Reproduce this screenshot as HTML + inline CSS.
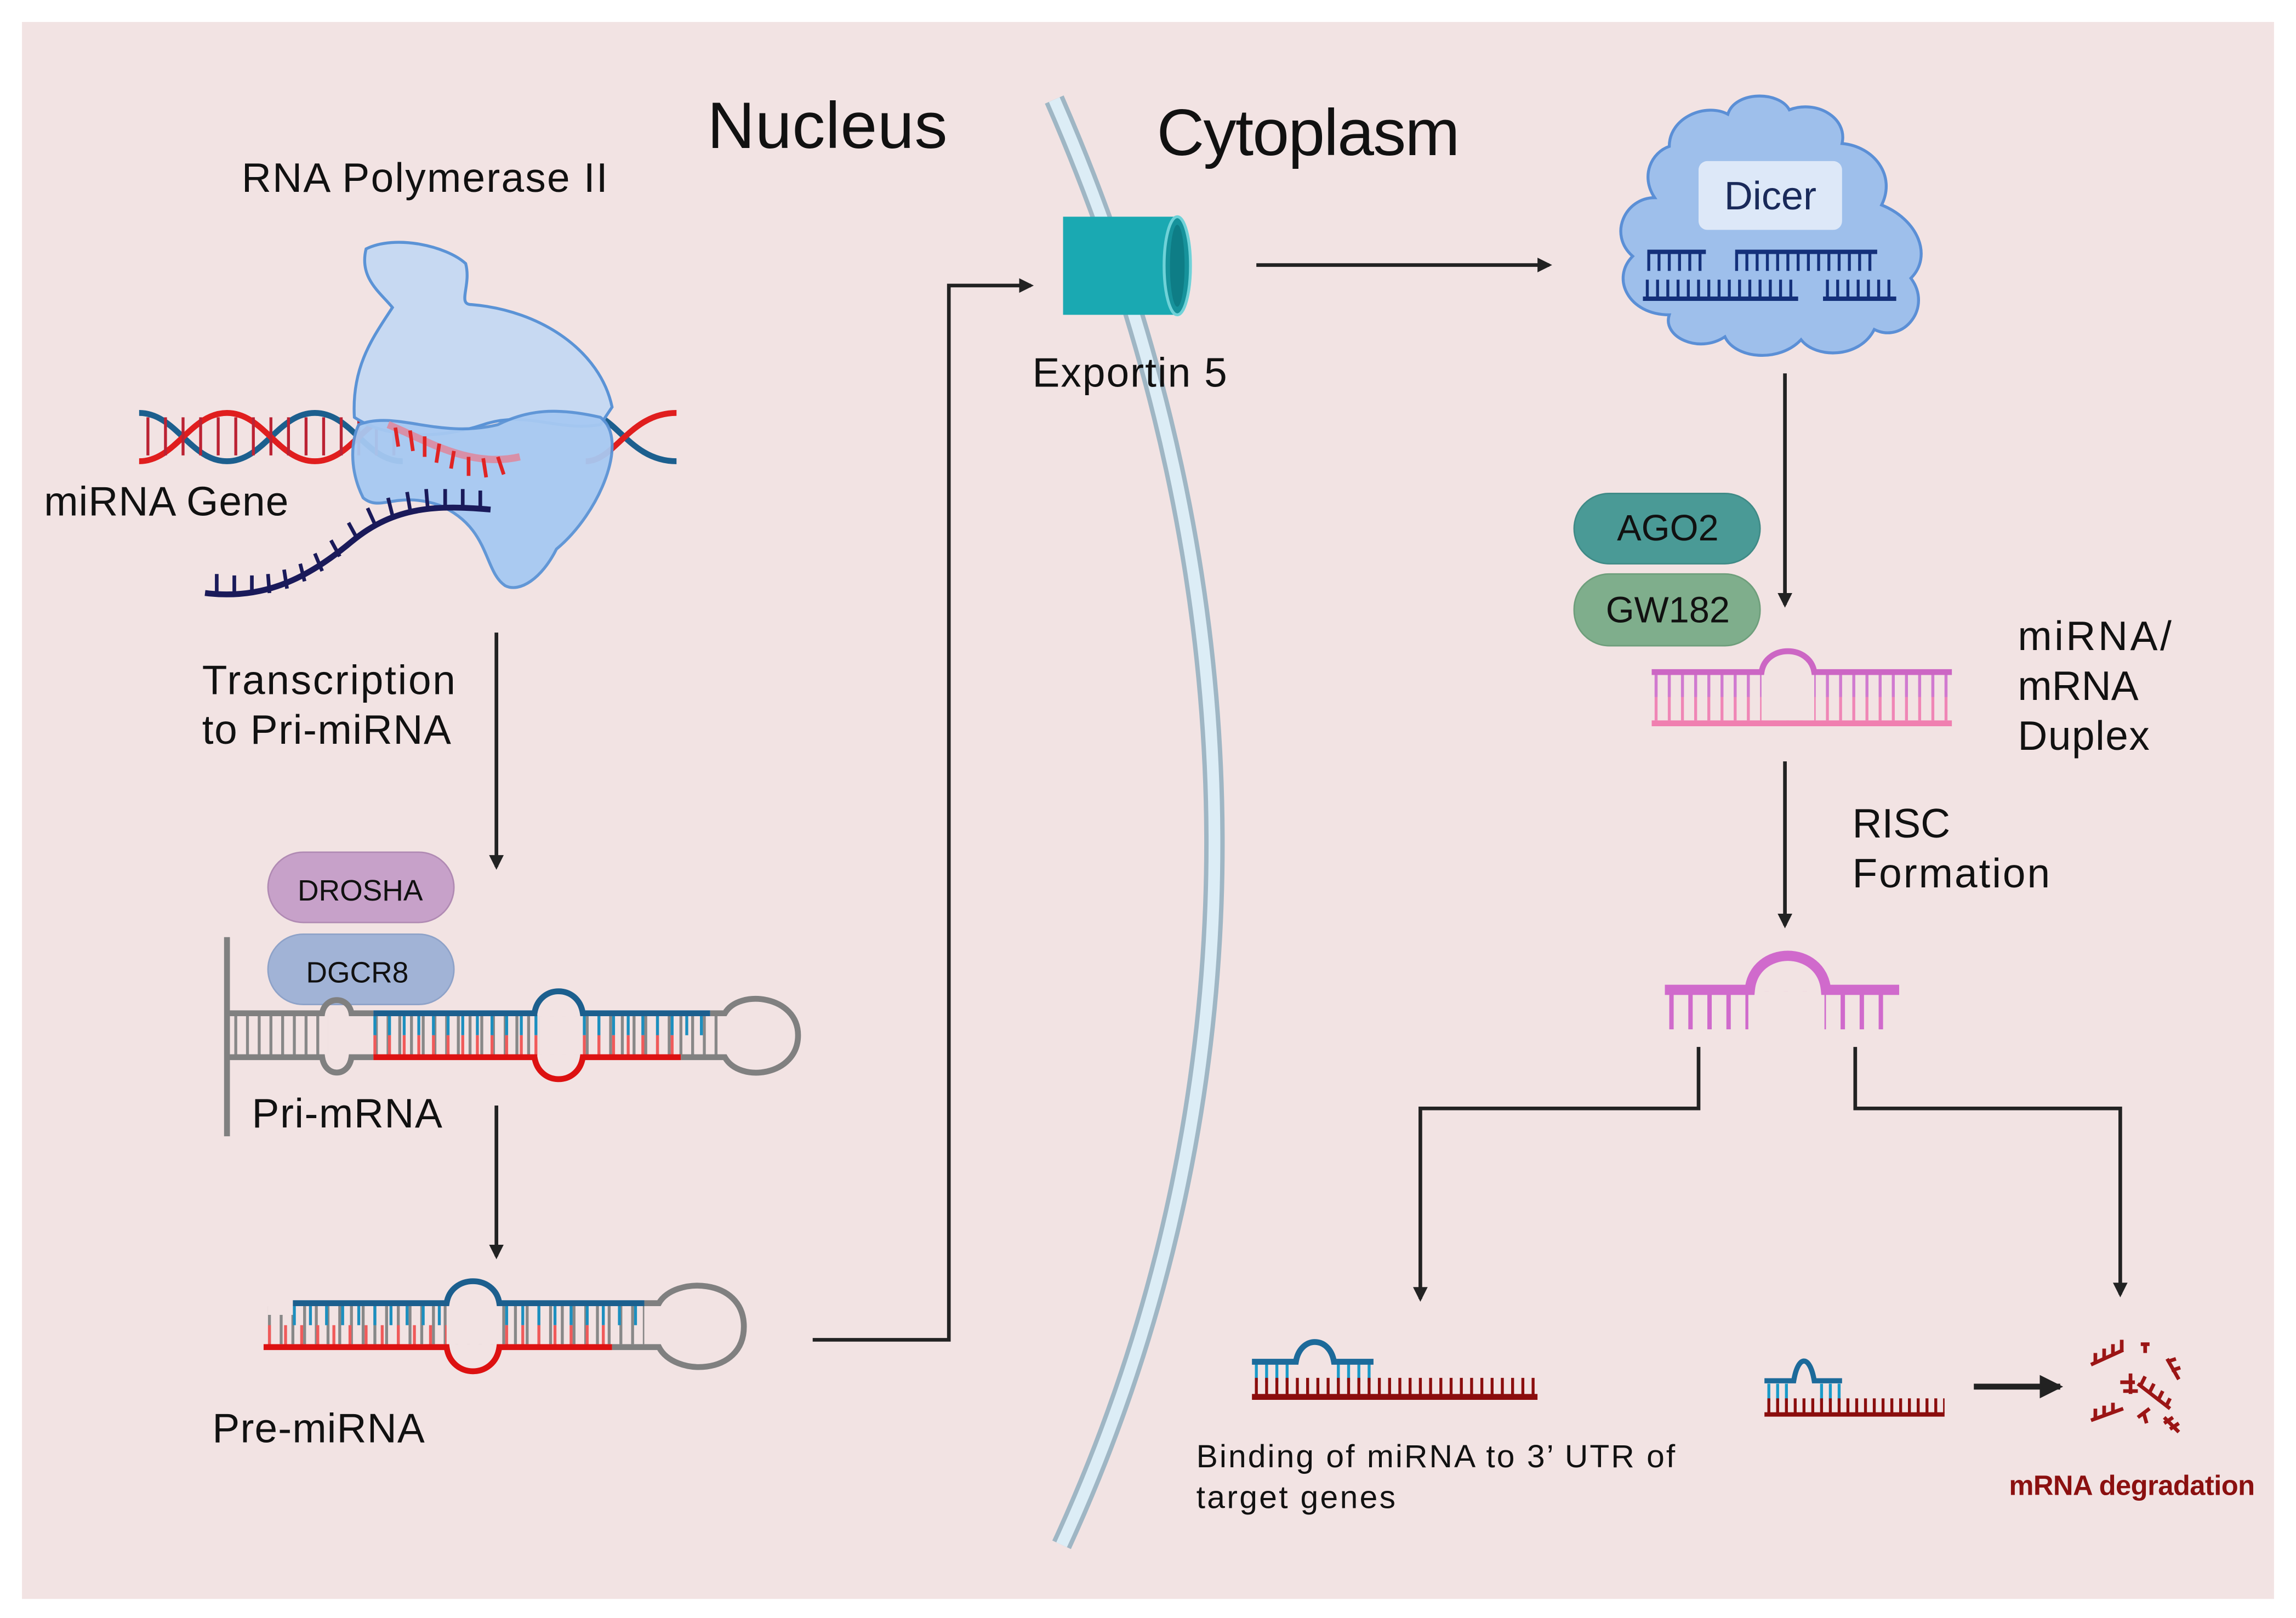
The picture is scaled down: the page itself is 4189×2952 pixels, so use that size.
<!DOCTYPE html>
<html><head><meta charset="utf-8"><style>
html,body{margin:0;padding:0;background:#fff;}
svg{display:block;}
text{font-family:"Liberation Sans",sans-serif;fill:#111;}
</style></head><body>
<svg width="4189" height="2952" viewBox="0 0 1568 1105" xmlns="http://www.w3.org/2000/svg">
<defs>
<marker id="ah" markerWidth="10" markerHeight="10" refX="8" refY="5" orient="auto" markerUnits="userSpaceOnUse"><path d="M0,0 L10,5 L0,10 Z" fill="#222"/></marker>
<marker id="ah2" markerWidth="16" markerHeight="16" refX="14" refY="8" orient="auto" markerUnits="userSpaceOnUse"><path d="M0,0 L16,8 L0,16 Z" fill="#222"/></marker>
</defs>
<rect x="0" y="0" width="1568" height="1105" fill="#fff"/>
<rect x="15" y="15" width="1538" height="1077" fill="#f2e3e3"/>

<!-- membrane -->
<path d="M720,68 C865,400 865,750 725,1055" fill="none" stroke="#9fb6c4" stroke-width="14"/>
<path d="M720,68 C865,400 865,750 725,1055" fill="none" stroke="#dcedf6" stroke-width="8"/>

<!-- titles -->
<text x="483" y="101" font-size="45" textLength="164">Nucleus</text>
<text x="790" y="106" font-size="45" textLength="207">Cytoplasm</text>
<text x="165" y="131" font-size="28" textLength="250">RNA Polymerase II</text>
<text x="30" y="352" font-size="28" textLength="167">miRNA Gene</text>
<text x="138" y="474" font-size="28" textLength="173">Transcription</text>
<text x="138" y="508" font-size="28" textLength="170">to Pri-miRNA</text>
<text x="172" y="770" font-size="28" textLength="130">Pri-mRNA</text>
<text x="145" y="985" font-size="28" textLength="145">Pre-miRNA</text>
<text x="705" y="264" font-size="28" textLength="133">Exportin 5</text>
<text x="1378" y="444" font-size="28" textLength="105">miRNA/</text>
<text x="1378" y="478" font-size="28">mRNA</text>
<text x="1378" y="512" font-size="28" textLength="90">Duplex</text>
<text x="1265" y="572" font-size="28">RISC</text>
<text x="1265" y="606" font-size="28" textLength="135">Formation</text>
<text x="817" y="1002" font-size="22" textLength="327">Binding of miRNA to 3’ UTR of</text>
<text x="817" y="1030" font-size="22" textLength="136">target genes</text>
<text x="1372" y="1021" font-size="19" font-weight="bold" style="fill:#8b1010" textLength="168">mRNA degradation</text>

<!-- DNA helix -->
<g fill="none" stroke-width="4">
<path d="M95,282 C120,282 130,315 155,315 C180,315 190,282 215,282 C240,282 250,315 275,315" stroke="#1c5f8e"/>
<path d="M95,315 C120,315 130,282 155,282 C180,282 190,315 215,315 C240,315 250,282 275,282" stroke="#e01e1e"/>
<path d="M400,282 C420,282 430,315 462,315" stroke="#1c5f8e"/>
<path d="M400,315 C420,315 430,282 462,282" stroke="#e01e1e"/>
<line x1="100" y1="298" x2="270" y2="298" stroke="#b23" stroke-width="26" stroke-dasharray="2 10"/>
</g>
<!-- polymerase -->
<path d="M250,170 C270,160 305,168 318,180 C322,195 312,208 322,208 C370,212 410,240 418,278 L410,290 C380,295 360,280 330,290 C300,300 265,300 242,285 C240,250 255,230 268,210 C260,200 245,190 250,170Z" fill="#c7d9f2" stroke="#5b93d6" stroke-width="2"/>
<path d="M245,290 C270,280 300,300 340,290 C360,280 380,278 410,285 C430,300 410,350 380,375 C370,395 355,405 345,400 C330,390 335,360 300,345 C270,335 260,350 248,340 C238,320 240,300 245,290Z" fill="#a7c9f2" stroke="#5b93d6" stroke-width="2" opacity="0.95"/>
<g stroke="#e02424" stroke-width="2.5">
<path d="M265,290 C290,300 320,320 355,312" fill="none" stroke="#d890a8" stroke-width="5"/>
<line x1="270" y1="292" x2="272" y2="305"/><line x1="280" y1="294" x2="282" y2="308"/><line x1="290" y1="298" x2="290" y2="312"/><line x1="300" y1="303" x2="298" y2="316"/><line x1="310" y1="308" x2="308" y2="320"/><line x1="320" y1="312" x2="320" y2="325"/><line x1="330" y1="313" x2="332" y2="326"/><line x1="340" y1="312" x2="344" y2="324"/>
</g>
<path d="M140,405 C180,410 210,395 240,370 C270,345 300,345 335,348" fill="none" stroke="#1a1a5a" stroke-width="4"/>
<g stroke="#1a1a5a" stroke-width="2.5">
<line x1="148" y1="405" x2="148" y2="392"/><line x1="160" y1="406" x2="160" y2="393"/><line x1="172" y1="406" x2="172" y2="393"/><line x1="184" y1="405" x2="183" y2="392"/><line x1="196" y1="402" x2="194" y2="389"/><line x1="208" y1="397" x2="205" y2="385"/><line x1="220" y1="390" x2="215" y2="378"/><line x1="232" y1="380" x2="226" y2="369"/><line x1="244" y1="368" x2="238" y2="357"/><line x1="256" y1="358" x2="251" y2="347"/><line x1="268" y1="352" x2="265" y2="340"/><line x1="280" y1="348" x2="278" y2="336"/><line x1="292" y1="346" x2="291" y2="334"/><line x1="304" y1="346" x2="304" y2="334"/><line x1="316" y1="346" x2="316" y2="334"/><line x1="328" y1="347" x2="328" y2="335"/>
</g>

<!-- DROSHA / DGCR8 -->
<rect x="183" y="582" width="127" height="48" rx="24" fill="#c7a1c9" stroke="#b08ab3"/>
<text x="246" y="615" font-size="20" text-anchor="middle">DROSHA</text>
<rect x="183" y="638" width="127" height="48" rx="24" fill="#a1b3d6" stroke="#8ea2c8"/>
<text x="244" y="671" font-size="20" text-anchor="middle">DGCR8</text>

<!-- Pri-mRNA -->
<line x1="155" y1="640" x2="155" y2="776" stroke="#808080" stroke-width="4"/>
<line x1="160" y1="707" x2="490" y2="707" stroke="#888" stroke-width="26" stroke-dasharray="2 6"/>
<line x1="255" y1="700" x2="368" y2="700" stroke="#1c8fbf" stroke-width="14" stroke-dasharray="2 8"/>
<line x1="255" y1="714" x2="368" y2="714" stroke="#f05a5a" stroke-width="14" stroke-dasharray="2 8"/>
<line x1="398" y1="700" x2="485" y2="700" stroke="#1c8fbf" stroke-width="14" stroke-dasharray="2 8"/>
<line x1="398" y1="714" x2="465" y2="714" stroke="#f05a5a" stroke-width="14" stroke-dasharray="2 8"/>
<rect x="224" y="688" width="30" height="40" fill="#f2e3e3"/>
<rect x="368" y="694" width="30" height="26" fill="#f2e3e3"/>
<g fill="none" stroke-width="4">
<path d="M155,692 H220 C222,680 238,680 240,692 H255" stroke="#808080"/>
<path d="M155,722 H220 C222,736 238,736 240,722 H255" stroke="#808080"/>
<path d="M255,692 H365 C368,672 395,672 398,692 H485" stroke="#1c5f8e"/>
<path d="M255,722 H365 C368,742 395,742 398,722 H465" stroke="#d11"/>
<path d="M485,692 H495 C505,675 545,680 545,707 C545,735 505,740 495,722 H465" stroke="#808080"/>
</g>

<!-- Pre-miRNA -->
<line x1="183" y1="905" x2="440" y2="905" stroke="#888" stroke-width="26" stroke-dasharray="2 6"/>
<line x1="200" y1="898" x2="305" y2="898" stroke="#1c8fbf" stroke-width="14" stroke-dasharray="2 9"/>
<line x1="183" y1="912" x2="305" y2="912" stroke="#f05a5a" stroke-width="14" stroke-dasharray="2 9"/>
<line x1="345" y1="898" x2="435" y2="898" stroke="#1c8fbf" stroke-width="14" stroke-dasharray="2 9"/>
<line x1="345" y1="912" x2="418" y2="912" stroke="#f05a5a" stroke-width="14" stroke-dasharray="2 9"/>
<rect x="305" y="886" width="36" height="32" fill="#f2e3e3"/>
<rect x="183" y="884" width="17" height="14" fill="#f2e3e3"/>
<g fill="none" stroke-width="4">
<path d="M200,890 H305 C308,870 338,870 341,890 H440" stroke="#1c5f8e"/>
<path d="M180,920 H305 C308,942 338,942 341,920 H418" stroke="#d11"/>
<path d="M440,890 H450 C460,872 508,872 508,906 C508,940 460,940 450,920 H418" stroke="#808080"/>
</g>

<!-- arrows -->
<g stroke="#222" stroke-width="2.5" fill="none">
<line x1="339" y1="432" x2="339" y2="592" marker-end="url(#ah)"/>
<line x1="339" y1="755" x2="339" y2="858" marker-end="url(#ah)"/>
<polyline points="555,915 648,915 648,195 704,195" marker-end="url(#ah)"/>
<line x1="858" y1="181" x2="1058" y2="181" marker-end="url(#ah)"/>
<line x1="1219" y1="255" x2="1219" y2="413" marker-end="url(#ah)"/>
<line x1="1219" y1="520" x2="1219" y2="632" marker-end="url(#ah)"/>
<polyline points="1160,715 1160,757 970,757 970,887" marker-end="url(#ah)"/>
<polyline points="1267,715 1267,757 1448,757 1448,884" marker-end="url(#ah)"/>
<line x1="1348" y1="947" x2="1407" y2="947" stroke-width="4" marker-end="url(#ah2)"/>
</g>

<!-- Exportin -->
<rect x="726" y="148" width="78" height="67" fill="#1aa9b2"/>
<ellipse cx="804" cy="181.5" rx="9" ry="33.5" fill="#16929b" stroke="#6fd2d8" stroke-width="2"/>
<ellipse cx="804" cy="181.5" rx="5" ry="28" fill="#0e7d86"/>

<!-- Dicer -->
<path d="M1140,100 C1140,80 1165,70 1180,78 C1185,62 1215,62 1222,75 C1240,68 1262,80 1258,98 C1280,100 1295,120 1285,140 C1310,150 1320,175 1305,190 C1320,210 1300,235 1280,225 C1270,245 1240,245 1230,232 C1215,248 1185,245 1178,230 C1160,242 1135,230 1140,215 C1112,215 1100,190 1115,175 C1098,160 1110,135 1130,135 C1120,120 1128,104 1140,100Z" fill="#9ebfeb" stroke="#5b8fd6" stroke-width="2"/>
<rect x="1160" y="110" width="98" height="47" rx="6" fill="#dde8f8"/>
<text x="1209" y="143" font-size="27" text-anchor="middle" style="fill:#1a2a5a">Dicer</text>
<g stroke="#14307a">
<line x1="1125" y1="172" x2="1165" y2="172" stroke-width="3"/>
<line x1="1185" y1="172" x2="1282" y2="172" stroke-width="3"/>
<line x1="1125" y1="179" x2="1165" y2="179" stroke-width="12" stroke-dasharray="2 5"/>
<line x1="1185" y1="179" x2="1282" y2="179" stroke-width="12" stroke-dasharray="2 5"/>
<line x1="1122" y1="204" x2="1228" y2="204" stroke-width="3"/>
<line x1="1245" y1="204" x2="1295" y2="204" stroke-width="3"/>
<line x1="1124" y1="197" x2="1228" y2="197" stroke-width="12" stroke-dasharray="2 5"/>
<line x1="1247" y1="197" x2="1295" y2="197" stroke-width="12" stroke-dasharray="2 5"/>
</g>

<!-- AGO2 / GW182 -->
<rect x="1075" y="337" width="127" height="48" rx="24" fill="#4a9a96" stroke="#3f8a86"/>
<text x="1139" y="369" font-size="25" text-anchor="middle">AGO2</text>
<rect x="1075" y="392" width="127" height="49" rx="24" fill="#7fae8c" stroke="#6e9e7b"/>
<text x="1139" y="425" font-size="25" text-anchor="middle">GW182</text>

<!-- Duplex -->
<line x1="1130" y1="476" x2="1332" y2="476" stroke="#ef86b6" stroke-width="32" stroke-dasharray="2 7"/>
<rect x="1203" y="458" width="36" height="34" fill="#f2e3e3"/>
<line x1="1130" y1="468" x2="1332" y2="468" stroke="#d07ad0" stroke-width="16" stroke-dasharray="2 7"/>
<rect x="1203" y="458" width="36" height="20" fill="#f2e3e3"/>
<g fill="none" stroke-width="4">
<path d="M1128,459 H1203 C1206,440 1236,440 1239,459 H1333" stroke="#cc66c4"/>
<line x1="1128" y1="494" x2="1333" y2="494" stroke="#f07fb0"/>
</g>

<!-- RISC strand -->
<line x1="1140" y1="690" x2="1296" y2="690" stroke="#d06acc" stroke-width="26" stroke-dasharray="3 10"/>
<rect x="1194" y="677" width="52" height="28" fill="#f2e3e3"/>
<path d="M1137,676 H1195 C1198,645 1244,645 1247,676 H1297" fill="none" stroke="#d06acc" stroke-width="7"/>

<!-- binding -->
<line x1="857" y1="937" x2="938" y2="937" stroke="#1a9ac8" stroke-width="14" stroke-dasharray="2 5"/>
<rect x="882" y="928" width="28" height="16" fill="#f2e3e3"/>
<line x1="857" y1="947" x2="1050" y2="947" stroke="#8b0d0d" stroke-width="12" stroke-dasharray="2 5"/>
<path d="M855,930 H885 C888,912 908,912 911,930 H938" fill="none" stroke="#1c6a9a" stroke-width="4"/>
<line x1="855" y1="954" x2="1050" y2="954" stroke="#8b0d0d" stroke-width="4"/>

<line x1="1207" y1="951" x2="1258" y2="951" stroke="#1a9ac8" stroke-width="12" stroke-dasharray="2 4"/>
<rect x="1222" y="943" width="18" height="14" fill="#f2e3e3"/>
<line x1="1207" y1="960" x2="1328" y2="960" stroke="#8b0d0d" stroke-width="10" stroke-dasharray="2 4"/>
<path d="M1205,943 H1225 C1228,925 1236,925 1239,943 H1258" fill="none" stroke="#1c6a9a" stroke-width="3.5"/>
<line x1="1205" y1="966" x2="1328" y2="966" stroke="#8b0d0d" stroke-width="3"/>

<!-- degradation fragments -->
<g stroke="#9b1515" stroke-width="2.5" fill="none">
<path d="M1428,932 L1450,922"/><path d="M1431,924 L1431,930 M1437,921 L1437,928 M1443,918 L1443,926 M1449,915 L1449,923"/>
<path d="M1462,918 L1468,918 M1465,918 L1465,924"/>
<path d="M1480,928 L1488,942 M1480,930 L1486,928 M1483,936 L1489,934"/>
<path d="M1460,945 L1482,962 M1465,940 L1462,946 M1471,945 L1468,951 M1477,950 L1474,956 M1482,955 L1479,961"/>
<path d="M1448,944 L1458,944 M1450,950 L1460,950 M1455,938 L1455,952"/>
<path d="M1428,970 L1450,962 M1431,962 L1431,969 M1437,960 L1437,967 M1443,958 L1443,965"/>
<path d="M1460,968 L1468,962 M1464,965 L1466,972"/>
<path d="M1478,968 L1488,978 M1478,972 L1484,968 M1482,976 L1488,972"/>
</g>
</svg>
</body></html>
